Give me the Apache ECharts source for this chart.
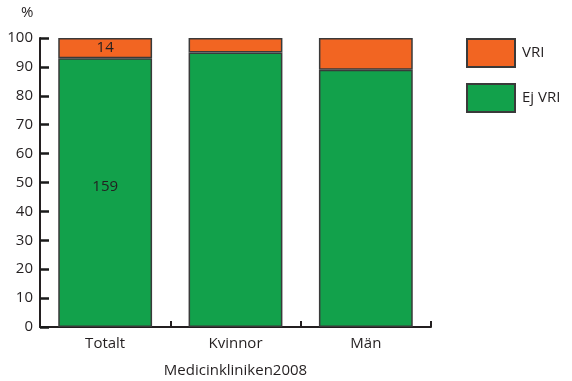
<!DOCTYPE html>
<html><head><meta charset="utf-8">
<script src="https://cdn.jsdelivr.net/npm/echarts@6/dist/echarts.min.js"></script>
<style>html,body{margin:0;padding:0;background:#fff}#c{width:572px;height:381px}</style>
</head><body><div id="c"></div>
<script>
var categories = ['Totalt', 'Kvinnor', 'Män'];
var ejVri = [93, 95, 89];
var vri = [7, 5, 11];
var ejVriCounts = ['159', '', ''];
var vriCounts = ['14', '', ''];
var yTicks = [0, 10, 20, 30, 40, 50, 60, 70, 80, 90, 100];
var xTitle = 'Medicinkliniken2008';
var yUnit = '%';

var FONT = '"Open Sans", "Noto Sans", sans-serif';
var TXT = '#231f20';
var chart = echarts.init(document.getElementById('c'), null, {renderer: 'canvas'});
chart.setOption({
  animation: false,
  textStyle: {fontFamily: FONT, color: TXT},
  grid: {left: 40, right: 141, top: 38, bottom: 54, containLabel: false, outerBoundsMode: 'none'},
  legend: {
    orient: 'vertical', left: 466, top: 38, padding: 0, itemWidth: 48, itemHeight: 28, itemGap: 15,
    icon: 'rect',
    textStyle: {fontFamily: FONT, fontSize: 15, color: TXT, padding: [0,0,0,2]},
    data: ['VRI', 'Ej VRI']
  },
  graphic: [{type: 'text', left: 21, top: 5, style: {text: yUnit, font: '15px ' + FONT, fill: TXT}}],
  xAxis: {
    type: 'category', data: categories,
    name: xTitle, nameLocation: 'middle', nameGap: 36,
    nameTextStyle: {fontFamily: FONT, fontSize: 15, color: TXT},
    axisLine: {show: true, lineStyle: {color: '#231f20', width: 2}},
    axisTick: {show: true, inside: true, alignWithLabel: false, interval: 0, length: 6, lineStyle: {color: '#231f20', width: 2}},
    axisLabel: {fontFamily: FONT, fontSize: 15, color: TXT, margin: 9}
  },
  yAxis: {
    type: 'value', min: 0, max: 100, interval: 10,
    axisLine: {show: true, lineStyle: {color: '#231f20', width: 2}},
    axisTick: {show: true, inside: true, length: 9, lineStyle: {color: '#1a1a1a', width: 2.5}},
    axisLabel: {fontFamily: FONT, fontSize: 15, color: TXT, margin: 7,
      formatter: function (v) { return yTicks.indexOf(v) >= 0 ? String(v) : ''; }},
    splitLine: {show: false}
  },
  series: [
    {name: 'Ej VRI', type: 'bar', stack: 's', data: ejVri, barCategoryGap: '28%',
     itemStyle: {color: '#12a14b', borderColor: '#3a3a3a', borderWidth: 1.5},
     label: {show: true, position: 'inside', offset: [0, -6], fontFamily: FONT, fontSize: 15, color: TXT,
       formatter: function (p) { return ejVriCounts[p.dataIndex]; }}},
    {name: 'VRI', type: 'bar', stack: 's', data: vri, barCategoryGap: '28%',
     itemStyle: {color: '#f26522', borderColor: '#3a3a3a', borderWidth: 1.5},
     label: {show: true, position: 'inside', fontFamily: FONT, fontSize: 15, color: TXT,
       formatter: function (p) { return vriCounts[p.dataIndex]; }}}
  ]
});
</script></body></html>
